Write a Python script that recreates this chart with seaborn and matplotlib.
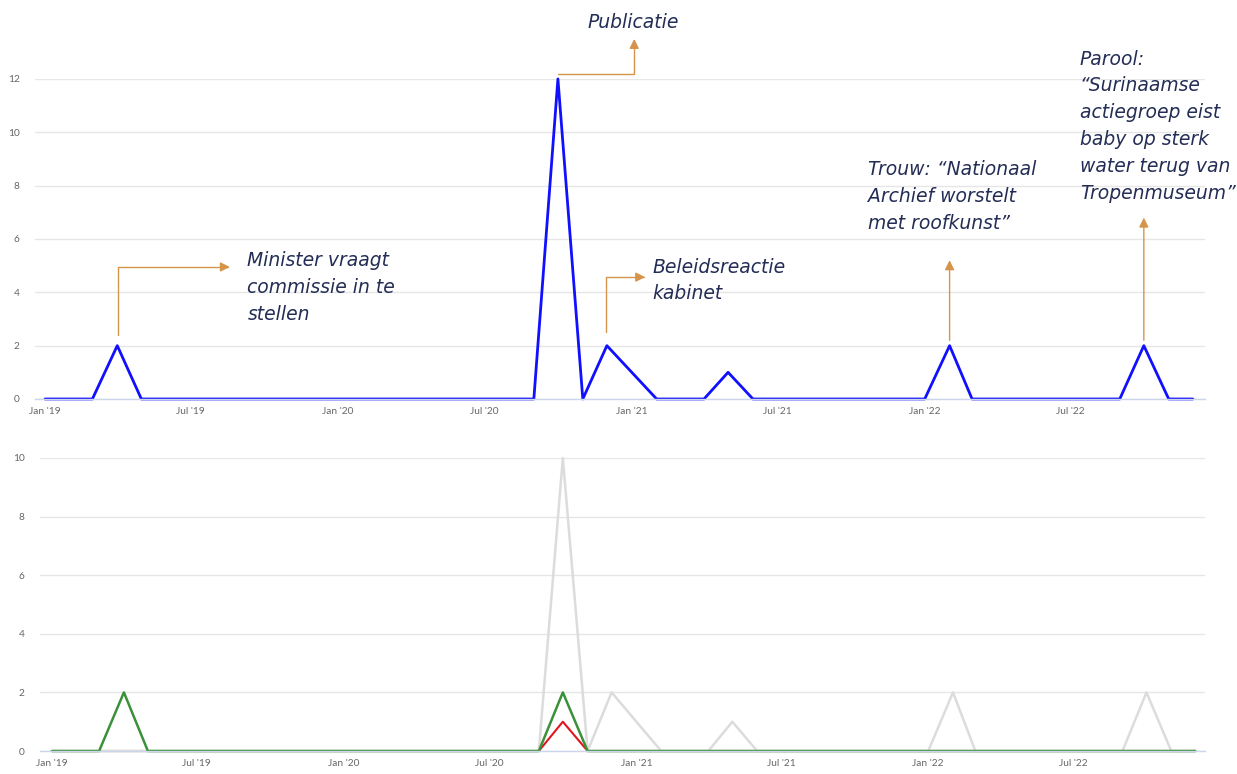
import pandas as pd
import numpy as np
import seaborn as sns
import matplotlib.pyplot as plt
import matplotlib.dates as mdates

# Data: monthly counts Jan 2019 - Dec 2022
maanden = pd.date_range('2019-01-01', periods=48, freq='MS')

totaal = [0, 0, 0, 2, 0, 0, 0, 0, 0, 0, 0, 0,
          0, 0, 0, 0, 0, 0, 0, 0, 0, 12, 0, 2,
          1, 0, 0, 0, 1, 0, 0, 0, 0, 0, 0, 0,
          0, 2, 0, 0, 0, 0, 0, 0, 0, 2, 0, 0]

grijs = [0, 0, 0, 0, 0, 0, 0, 0, 0, 0, 0, 0,
         0, 0, 0, 0, 0, 0, 0, 0, 0, 10, 0, 2,
         1, 0, 0, 0, 1, 0, 0, 0, 0, 0, 0, 0,
         0, 2, 0, 0, 0, 0, 0, 0, 0, 2, 0, 0]

groen = [0, 0, 0, 2, 0, 0, 0, 0, 0, 0, 0, 0,
         0, 0, 0, 0, 0, 0, 0, 0, 0, 2, 0, 0,
         0, 0, 0, 0, 0, 0, 0, 0, 0, 0, 0, 0,
         0, 0, 0, 0, 0, 0, 0, 0, 0, 0, 0, 0]

rood = [0, 0, 0, 0, 0, 0, 0, 0, 0, 0, 0, 0,
        0, 0, 0, 0, 0, 0, 0, 0, 0, 1, 0, 0,
        0, 0, 0, 0, 0, 0, 0, 0, 0, 0, 0, 0,
        0, 0, 0, 0, 0, 0, 0, 0, 0, 0, 0, 0]

df = pd.DataFrame({'maand': maanden, 'totaal': totaal, 'grijs': grijs,
                   'groen': groen, 'rood': rood})

sns.set_style('white')
plt.rcParams['font.family'] = ['DejaVu Sans']

fig = plt.figure(figsize=(12.37, 7.74), dpi=100)
ax1 = fig.add_axes([0.0283, 0.4845, 0.9457, 0.4135])
ax2 = fig.add_axes([0.0323, 0.0297, 0.9417, 0.3786])

sns.lineplot(data=df, x='maand', y='totaal', color='#1010ff', linewidth=2, ax=ax1, clip_on=False)
# rood onder grijs, groen bovenop
sns.lineplot(data=df, x='maand', y='rood', color='#e0161e', linewidth=1.5, ax=ax2, clip_on=False)
sns.lineplot(data=df, x='maand', y='grijs', color='#dcdcdc', linewidth=1.8, ax=ax2, clip_on=False)
sns.lineplot(data=df, x='maand', y='groen', color='#3a913a', linewidth=1.8, ax=ax2, clip_on=False)

ticks = pd.date_range('2019-01-01', '2022-07-01', freq='6MS')
for ax, ymax, pad_l, pad_r in [(ax1, 12, 12.5, 15), (ax2, 10, 15, 12)]:
    ax.set_ylim(0, ymax)
    ax.set_yticks(np.arange(0, ymax + 1, 2))
    ax.set_xlim(maanden[0] - pd.Timedelta(days=pad_l), maanden[-1] + pd.Timedelta(days=pad_r))
    ax.set_xticks(ticks)
    ax.xaxis.set_major_formatter(mdates.DateFormatter("%b '%y"))
    ax.grid(axis='y', color='#e6e6e6', linewidth=1)
    ax.set_axisbelow(True)
    for s in ['top', 'right', 'left']:
        ax.spines[s].set_visible(False)
    ax.spines['bottom'].set_color('#ccd6eb')
    ax.spines['bottom'].set_linewidth(1)
    ax.tick_params(axis='both', length=0, labelsize=7.3, labelcolor='#666666')
    ax.tick_params(axis='y', pad=11)
    ax.tick_params(axis='x', pad=6)
    ax.set_xlabel('')
    ax.set_ylabel('')
    for lbl in ax.get_xticklabels() + ax.get_yticklabels():
        lbl.set_family('Lato')

# Annotaties
tekstkleur = '#232d55'
pijlkleur = '#d4944a'
pijl = dict(arrowstyle='-|>', color=pijlkleur, lw=1, shrinkA=0, shrinkB=0,
            mutation_scale=14)
tkw = dict(fontsize=13.5, style='italic', color=tekstkleur, linespacing=1.52,
           annotation_clip=False)


def d(i, frac=0.0):
    return maanden[int(i)] + pd.Timedelta(days=30.44 * frac)


ax1.annotate('', xy=(d(7, 0.6), 4.95), xytext=(d(3, 0.05), 2.4),
             arrowprops=dict(pijl, connectionstyle='angle,angleA=90,angleB=0,rad=0'),
             annotation_clip=False)
ax1.annotate('Minister vraagt\ncommissie in te\nstellen', xy=(d(8, 0.3), 5.55),
             ha='left', va='top', **tkw)

ax1.annotate('', xy=(d(24, 0.1), 13.5), xytext=(d(21), 12.2),
             arrowprops=dict(pijl, connectionstyle='angle,angleA=0,angleB=90,rad=0'),
             annotation_clip=False)
ax1.annotate('Publicatie', xy=(d(24, 0.05), 14.1), ha='center', va='center', **tkw)

ax1.annotate('', xy=(d(24, 0.55), 4.57), xytext=(d(22, 0.93), 2.5),
             arrowprops=dict(pijl, connectionstyle='angle,angleA=90,angleB=0,rad=0'),
             annotation_clip=False)
ax1.annotate('Beleidsreactie\nkabinet', xy=(d(24, 0.85), 5.3),
             ha='left', va='top', **tkw)

ax1.annotate('', xy=(d(37), 5.2), xytext=(d(37), 2.2),
             arrowprops=pijl, annotation_clip=False)
ax1.annotate('Trouw: \u201cNationaal\nArchief worstelt\nmet roofkunst\u201d',
             xy=(d(33, 0.7), 8.95), ha='left', va='top', **tkw)

ax1.annotate('', xy=(d(45), 6.8), xytext=(d(45), 2.2),
             arrowprops=pijl, annotation_clip=False)
ax1.annotate('Parool:\n\u201cSurinaamse\nactiegroep eist\nbaby op sterk\nwater terug van\nTropenmuseum\u201d',
             xy=(d(42, 0.4), 13.1), ha='left', va='top', **tkw)

fig.savefig('out.png', dpi=100)
